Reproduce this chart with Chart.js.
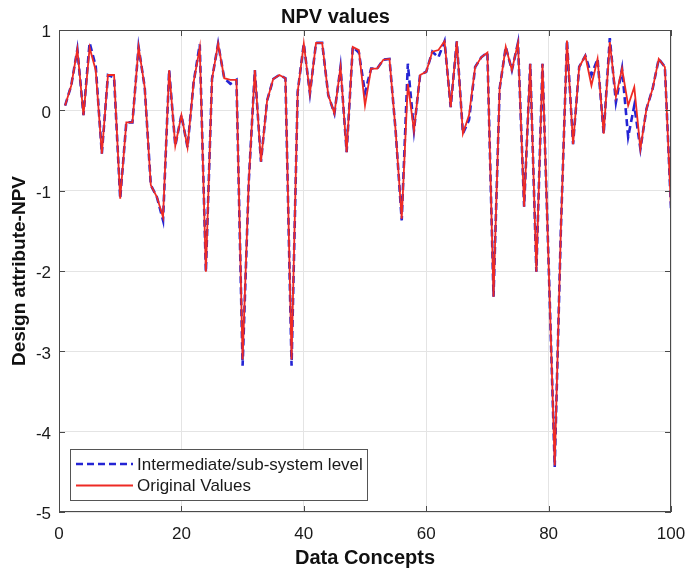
<!DOCTYPE html>
<html>
<head>
<meta charset="utf-8">
<script src="https://cdn.jsdelivr.net/npm/chart.js@4/dist/chart.umd.min.js"></script>
<style>
  body { margin: 0; background: #fff; }
</style>
</head>
<body>
<canvas id="npv" width="686" height="572"></canvas>
<script>
// values, one per data concept (1..100)
var original = [
   0.06,  0.31,  0.76, -0.06,  0.78,  0.50, -0.54,  0.44,  0.44, -1.10,
  -0.15, -0.15,  0.79,  0.29, -0.93, -1.08, -1.33,  0.50, -0.44, -0.06,
  -0.46,  0.35,  0.78, -2.01,  0.39,  0.83,  0.40,  0.38,  0.38, -3.10,
  -0.90,  0.50, -0.64,  0.12,  0.39,  0.44,  0.40, -3.10,  0.23,  0.83,
   0.21,  0.84,  0.84,  0.19, -0.04,  0.54, -0.52,  0.79,  0.75,  0.06,
   0.52,  0.52,  0.63,  0.64, -0.25, -1.35,  0.33, -0.25,  0.44,  0.48,
   0.73,  0.75,  0.86,  0.04,  0.86, -0.29, -0.06,  0.54,  0.66,  0.72,
  -2.32,  0.27,  0.79,  0.50,  0.84, -1.20,  0.58, -2.01,  0.58, -1.90,
  -4.42, -1.50,  0.87, -0.42,  0.54,  0.68,  0.31,  0.64, -0.29,  0.85,
   0.17,  0.52,  0.06,  0.29, -0.48,  0.02,  0.27,  0.64,  0.54, -1.22
];
var intermediate = [
   0.06,  0.31,  0.76, -0.06,  0.84,  0.55, -0.54,  0.44,  0.41, -1.10,
  -0.15, -0.15,  0.79,  0.29, -0.93, -1.08, -1.37,  0.50, -0.44, -0.06,
  -0.46,  0.35,  0.82, -2.01,  0.39,  0.83,  0.40,  0.33,  0.38, -3.18,
  -0.90,  0.50, -0.64,  0.12,  0.39,  0.44,  0.40, -3.18,  0.23,  0.83,
   0.21,  0.84,  0.84,  0.19, -0.04,  0.54, -0.52,  0.79,  0.72,  0.22,
   0.52,  0.52,  0.63,  0.64, -0.25, -1.37,  0.58, -0.25,  0.44,  0.48,
   0.73,  0.66,  0.86,  0.04,  0.86, -0.29, -0.12,  0.54,  0.66,  0.72,
  -2.32,  0.27,  0.79,  0.50,  0.84, -1.20,  0.58, -2.01,  0.58, -1.90,
  -4.44, -1.50,  0.87, -0.42,  0.54,  0.68,  0.44,  0.64, -0.29,  0.90,
   0.10,  0.52, -0.33,  0.06, -0.48,  0.02,  0.27,  0.64,  0.54, -1.22
];
var concepts = original.map(function (v, i) { return i + 1; });
var xTicks = [0, 20, 40, 60, 80, 100];
var yTicks = [-5, -4, -3, -2, -1, 0, 1];

var FONT = "'Liberation Sans', Arial, sans-serif";
Chart.defaults.font.family = FONT;
Chart.defaults.color = '#1a1a1a';

function points(vals) {
    return vals.map(function (v, i) { return { x: concepts[i], y: v }; });
}

// matlab style box: frame, inward ticks and a legend in the lower left
var boxPlugin = {
    id: 'box',
    afterDraw: function (chart) {
        var ctx = chart.ctx, a = chart.chartArea;
        var x = chart.scales.x, y = chart.scales.y;
        ctx.save();
        ctx.strokeStyle = '#4a4a4a';
        ctx.lineWidth = 1;
        ctx.strokeRect(a.left + 0.5, a.top + 0.5, a.right - a.left - 1, a.bottom - a.top - 1);
        ctx.beginPath();
        xTicks.forEach(function (t) {
            var px = Math.round(x.getPixelForValue(t)) + 0.5;
            ctx.moveTo(px, a.bottom); ctx.lineTo(px, a.bottom - 6);
            ctx.moveTo(px, a.top); ctx.lineTo(px, a.top + 6);
        });
        yTicks.forEach(function (t) {
            var py = Math.round(y.getPixelForValue(t)) + 0.5;
            ctx.moveTo(a.left, py); ctx.lineTo(a.left + 6, py);
            ctx.moveTo(a.right, py); ctx.lineTo(a.right - 6, py);
        });
        ctx.stroke();

        // legend
        var lx = 70, ly = 449, lw = 297, lh = 51;
        ctx.fillStyle = '#fff';
        ctx.fillRect(lx, ly, lw, lh);
        ctx.strokeStyle = '#555';
        ctx.strokeRect(lx + 0.5, ly + 0.5, lw, lh);
        var sets = [chart.data.datasets[1], chart.data.datasets[0]];
        ctx.font = '17px ' + FONT;
        ctx.textBaseline = 'middle';
        sets.forEach(function (ds, k) {
            var cy = ly + 15 + k * 21.5;
            ctx.beginPath();
            ctx.strokeStyle = ds.borderColor;
            ctx.lineWidth = ds.borderWidth;
            ctx.setLineDash(ds.borderDash || []);
            ctx.moveTo(76, cy); ctx.lineTo(133, cy);
            ctx.stroke();
            ctx.setLineDash([]);
            ctx.fillStyle = '#1a1a1a';
            ctx.fillText(ds.label, 137, cy + 1);
        });
        ctx.restore();
    }
};

new Chart(document.getElementById('npv'), {
    type: 'line',
    data: {
        datasets: [{
            label: 'Original Values',
            data: points(original),
            borderColor: '#ee2a24',
            borderWidth: 1.8,
            pointRadius: 0,
            tension: 0,
            order: 1
        }, {
            label: 'Intermediate/sub-system level',
            data: points(intermediate),
            borderColor: '#2424d4',
            borderWidth: 2.6,
            borderDash: [7, 4],
            pointRadius: 0,
            tension: 0,
            order: 2
        }]
    },
    options: {
        responsive: false,
        animation: false,
        layout: { padding: { left: 0, right: 15, top: 0, bottom: 0 } },
        plugins: {
            legend: { display: false },
            tooltip: { enabled: false },
            title: {
                display: true,
                text: 'NPV values',
                color: '#111',
                font: { size: 20, weight: 'bold' },
                padding: { top: 5, bottom: 1 }
            }
        },
        scales: {
            x: {
                type: 'linear',
                min: 0,
                max: 100,
                afterFit: function (s) { s.height = 60; },
                afterBuildTicks: function (s) { s.ticks = xTicks.map(function (v) { return { value: v }; }); },
                ticks: { font: { size: 17 }, padding: 0, color: '#1a1a1a', maxRotation: 0 },
                grid: { color: '#e4e4e4', drawTicks: true, tickLength: 12, tickColor: 'rgba(0,0,0,0)' },
                border: { display: false },
                title: {
                    display: true,
                    text: 'Data Concepts',
                    color: '#111',
                    font: { size: 20, weight: 'bold' },
                    padding: { top: 2, bottom: 2 }
                }
            },
            y: {
                type: 'linear',
                min: -5,
                max: 1,
                afterFit: function (s) { s.width = 59; },
                afterBuildTicks: function (s) { s.ticks = yTicks.map(function (v) { return { value: v }; }); },
                ticks: { font: { size: 17 }, padding: 8, labelOffset: 2.5, color: '#1a1a1a' },
                grid: { color: '#e4e4e4', drawTicks: false },
                border: { display: false },
                title: {
                    display: true,
                    text: 'Design attribute-NPV',
                    color: '#111',
                    font: { size: 19, weight: 'bold' },
                    padding: { top: 8, bottom: 0 }
                }
            }
        }
    },
    plugins: [boxPlugin]
});
</script>
</body>
</html>
